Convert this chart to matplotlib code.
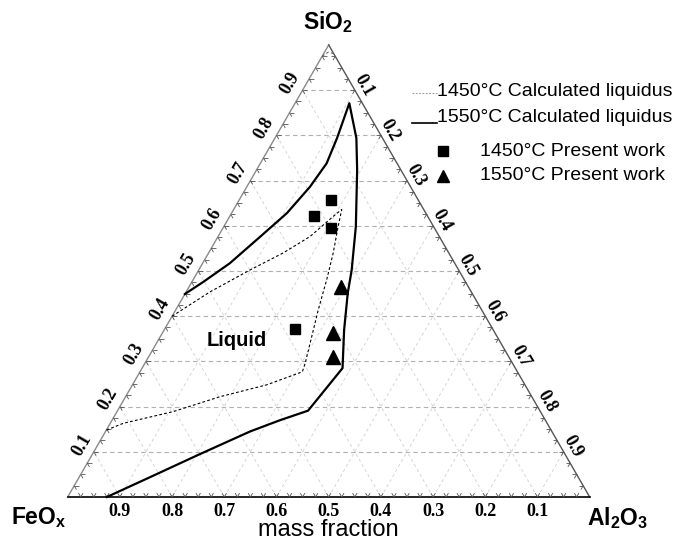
import numpy as np
import matplotlib
matplotlib.use('Agg')
import matplotlib.pyplot as plt
from matplotlib.lines import Line2D
from matplotlib.collections import LineCollection

plt.rcParams['font.family'] = ['Liberation Sans', 'DejaVu Sans']
plt.rcParams['mathtext.fontset'] = 'custom'
plt.rcParams['mathtext.rm'] = 'Liberation Sans'
plt.rcParams['mathtext.bf'] = 'Liberation Sans:bold'

# compositions in mass fraction (SiO2, Al2O3); FeOx is the remainder
liq1450_sio2 = [0.400, 0.454, 0.502, 0.540, 0.576, 0.624, 0.636, 0.598, 0.539, 0.480,
                0.414, 0.355, 0.296, 0.277, 0.248, 0.222, 0.189, 0.163, 0.148]
liq1450_al2o3 = [0.000, 0.046, 0.098, 0.143, 0.176, 0.200, 0.207, 0.219, 0.239, 0.256,
                 0.273, 0.290, 0.307, 0.311, 0.257, 0.181, 0.108, 0.025, 0.000]
cap1450_sio2 = [0.975, 0.984, 0.981]
cap1450_al2o3 = [0.000, 0.007, 0.019]

liq1550_sio2 = [0.449, 0.476, 0.517, 0.576, 0.628, 0.686, 0.738, 0.794, 0.871, 0.794,
                0.723, 0.598, 0.502, 0.451, 0.369, 0.285, 0.191, 0.170, 0.145, 0.095,
                0.044, 0.000]
liq1550_al2o3 = [0.000, 0.022, 0.052, 0.081, 0.106, 0.121, 0.127, 0.119, 0.104, 0.156,
                 0.193, 0.253, 0.293, 0.311, 0.345, 0.384, 0.365, 0.322, 0.277, 0.206,
                 0.136, 0.075]

pw1450_sio2 = [0.657, 0.622, 0.596, 0.372]
pw1450_al2o3 = [0.175, 0.161, 0.206, 0.250]
pw1550_sio2 = [0.464, 0.363, 0.309]
pw1550_al2o3 = [0.292, 0.327, 0.354]

grid_vals = [0.1, 0.2, 0.3, 0.4, 0.5, 0.6, 0.7, 0.8, 0.9]
tick_labels = ['0.1', '0.2', '0.3', '0.4', '0.5', '0.6', '0.7', '0.8', '0.9']

H = np.sqrt(3) / 2
PX = 522.0  # pixels per unit side


def to_xy(sio2, al2o3):
    s = np.asarray(sio2, dtype=float)
    a = np.asarray(al2o3, dtype=float)
    return a + s / 2, s * H


fig = plt.figure(figsize=(6.79, 5.46), dpi=100)
ax = fig.add_axes([0, 0, 1, 1])
ax.set_xlim(-67.7 / PX, (679 - 67.7) / PX)
ax.set_ylim((497 - 546) / PX, 497 / PX)
ax.axis('off')

# grid
for v in grid_vals:
    # constant SiO2 (horizontal)
    ax.plot([v / 2, 1 - v / 2], [v * H, v * H], color='#b0b0b0', lw=0.8,
            ls=(0, (4, 3)), zorder=1)
    # constant Al2O3 (parallel to left edge)
    ax.plot([v, (1 + v) / 2], [0, (1 - v) * H], color='#d4d4d4', lw=0.7,
            ls=(0, (3, 3)), zorder=1)
    # constant FeOx (parallel to right edge)
    ax.plot([1 - v, (1 - v) / 2], [0, (1 - v) * H], color='#d4d4d4', lw=0.7,
            ls=(0, (3, 3)), zorder=1)

# triangle edges
ax.plot([0, 0.5], [0, H], color='#8a8a8a', lw=1.0, zorder=2)
ax.plot([0.5, 1], [H, 0], color='#555555', lw=1.0, zorder=2)
ax.plot([0, 1], [0, 0], color='black', lw=1.2, zorder=2)

# small ticks
L = 4.5 / PX
segs = []
for t in np.arange(0.025, 0.99, 0.025):
    # bottom
    segs.append([(t, 0), (t - L / 2, L * H)])
    segs.append([(t, 0), (t + L / 2, L * H)])
    # left
    p = (t / 2, t * H)
    segs.append([p, (p[0] + L, p[1])])
    segs.append([p, (p[0] + L / 2, p[1] - L * H)])
    # right
    p = (1 - t / 2, t * H)
    segs.append([p, (p[0] - L, p[1])])
    segs.append([p, (p[0] - L / 2, p[1] - L * H)])
ax.add_collection(LineCollection(segs, colors='#555555', linewidths=0.6, zorder=2))

# tick labels
tfont = dict(family='Liberation Serif', fontsize=13, fontweight='bold')
off_l = 14 / PX
off_r = 10.5 / PX
for v, lab in zip(grid_vals, tick_labels):
    # bottom: FeOx fraction
    ax.text(1 - v, -14.5 / PX, lab, ha='center', va='center', **tfont)
    # left: SiO2 fraction
    ax.text(v / 2 - off_l * H, v * H + off_l * 0.5, lab, rotation=60,
            rotation_mode='anchor', ha='center', va='center', **tfont)
    # right: Al2O3 fraction
    s = 1 - v
    ax.text(1 - s / 2 + off_r * H, s * H + off_r * 0.5, lab, rotation=-60,
            rotation_mode='anchor', ha='center', va='center', **tfont)

# liquidus lines
x, y = to_xy(liq1450_sio2, liq1450_al2o3)
ax.plot(x, y, color='black', lw=0.8, ls=(0, (2.5, 2)), zorder=3)
x, y = to_xy(cap1450_sio2, cap1450_al2o3)
ax.plot(x, y, color='#666666', lw=0.8, ls=(0, (2.5, 2)), zorder=3)
x, y = to_xy(liq1550_sio2, liq1550_al2o3)
ax.plot(x, y, color='black', lw=1.6, zorder=3)

# experimental points
x, y = to_xy(pw1450_sio2, pw1450_al2o3)
ax.plot(x, y, 's', color='black', ms=7.5, ls='none', zorder=4)
x, y = to_xy(pw1550_sio2, pw1550_al2o3)
ax.plot(x, y, '^', color='black', ms=10, ls='none', zorder=4)

ax.text((237 - 67.7) / PX, (497 - 341) / PX, 'Liquid', fontsize=14.5,
        fontweight='bold', ha='center', va='center')

# corner labels
ax.text((328 - 67.7) / PX, (497 - 22) / PX, r'SiO$_\mathbf{2}$', fontsize=16.5,
        fontweight='bold', ha='center', va='center')
ax.text((39 - 67.7) / PX, (497 - 518) / PX, r'FeO$_\mathbf{x}$', fontsize=16.5,
        fontweight='bold', ha='center', va='center')
ax.text((618 - 67.7) / PX, (497 - 518) / PX, r'Al$_\mathbf{2}$O$_\mathbf{3}$',
        fontsize=16.5, fontweight='bold', ha='center', va='center')
ax.text((328 - 67.7) / PX, (497 - 530) / PX, 'mass fraction', fontsize=17,
        ha='center', va='center')

# legend, drawn in figure pixels
W, Hf = 679.0, 546.0


def fpos(px, py):
    return px / W, 1 - py / Hf


lfont = dict(fontsize=14, va='center', ha='left')
fig.add_artist(Line2D([412 / W, 437 / W], [1 - 93 / Hf] * 2, color='#999999',
                      lw=0.8, ls=(0, (1.5, 1.5))))
fig.text(*fpos(437, 91), '1450°C Calculated liquidus', **lfont)
fig.add_artist(Line2D([412 / W, 437 / W], [1 - 123 / Hf] * 2, color='black',
                      lw=1.2))
fig.text(*fpos(437, 117), '1550°C Calculated liquidus', **lfont)
fig.add_artist(Line2D([443 / W], [1 - 151 / Hf], marker='s', color='black',
                      ms=6.5, ls='none'))
fig.text(*fpos(480, 151), '1450°C Present work', **lfont)
fig.add_artist(Line2D([443 / W], [1 - 176 / Hf], marker='^', color='black',
                      ms=8, ls='none'))
fig.text(*fpos(480, 176), '1550°C Present work', **lfont)

fig.savefig('out.png', dpi=100)
